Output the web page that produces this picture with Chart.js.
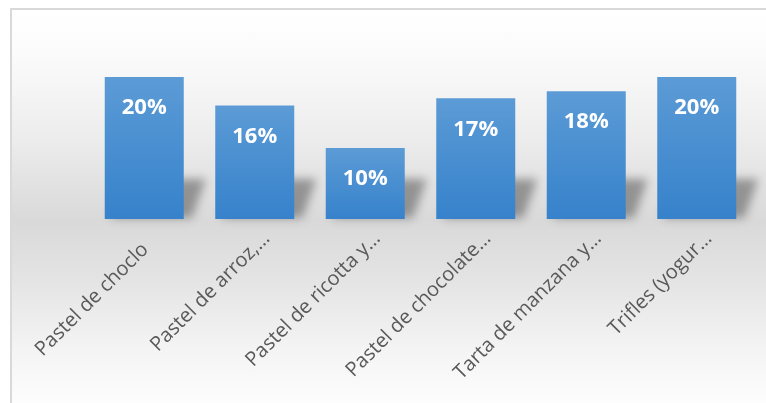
<!DOCTYPE html>
<html lang="es">
<head>
<meta charset="utf-8">
<title>Postres</title>
<script src="https://cdn.jsdelivr.net/npm/chart.js@4.4.1/dist/chart.umd.min.js"></script>
<style>
  html, body { margin: 0; padding: 0; width: 766px; height: 403px; overflow: hidden; background: #fff; }
  /* marco del gráfico con el degradado de fondo */
  #marco {
    position: absolute; left: 10px; top: 8px; width: 800px; height: 420px;
    border-left: 2px solid #d9d9d9; border-top: 2px solid #d9d9d9;
    background: linear-gradient(to bottom, #ffffff 0px, #fbfbfb 45px, #ececec 130px, #d9d9d9 211px, #e4e4e4 270px, #f4f4f4 340px, #fdfdfd 393px);
  }
  #grafico { position: absolute; left: 0; top: 0; }
</style>
</head>
<body>
<div id="marco"></div>
<canvas id="grafico" width="766" height="403"></canvas>
<script>
// Datos
const categorias = ['Pastel de choclo   ', 'Pastel de arroz,…', 'Pastel de ricotta y…', 'Pastel de chocolate…', 'Tarta de manzana y…', 'Trifles (yogur…'];
const porcentajes = [20, 16, 10, 17, 18, 20];
const ejeMin = 0;
const ejeMax = 25;

// Degradado vertical de cada barra
function degradado(context) {
    const chart = context.chart;
    const { chartArea, scales } = chart;
    if (!chartArea || !scales.y) return '#4a8fd1';
    const arriba = scales.y.getPixelForValue(porcentajes[context.dataIndex]);
    const abajo = scales.y.getPixelForValue(0);
    const g = chart.ctx.createLinearGradient(0, arriba, 0, abajo);
    g.addColorStop(0, '#5c9bd6');
    g.addColorStop(1, '#3682cb');
    return g;
}

// Sombra difuminada detrás de las barras
const sombraBarras = {
    id: 'sombraBarras',
    beforeDatasetsDraw(chart) {
        const ctx = chart.ctx;
        ctx.save();
        ctx.filter = 'blur(5px)';
        ctx.fillStyle = 'rgba(70, 70, 70, 0.5)';
        chart.getDatasetMeta(0).data.forEach(b => {
            const izq = b.x - b.width / 2;
            const der = b.x + b.width / 2;
            ctx.beginPath();
            ctx.moveTo(izq + 6, b.base - 1);
            ctx.lineTo(der + 8, b.base - 1);
            ctx.lineTo(der + 22, b.base - 40);
            ctx.lineTo(izq + 20, b.base - 40);
            ctx.closePath();
            ctx.fill();
        });
        ctx.restore();
    }
};

// Porcentaje dentro de cada barra
const etiquetasValor = {
    id: 'etiquetasValor',
    afterDatasetsDraw(chart) {
        const ctx = chart.ctx;
        ctx.save();
        ctx.font = 'bold 22px "Open Sans"';
        ctx.fillStyle = '#ffffff';
        ctx.textAlign = 'center';
        ctx.textBaseline = 'middle';
        chart.getDatasetMeta(0).data.forEach((b, i) => {
            ctx.fillText(porcentajes[i] + '%', b.x, b.y + 31);
        });
        ctx.restore();
    }
};

new Chart(document.getElementById('grafico'), {
    type: 'bar',
    data: {
        labels: categorias,
        datasets: [{
            data: porcentajes,
            backgroundColor: degradado,
            borderWidth: 0,
            barPercentage: 0.715,
            categoryPercentage: 1
        }]
    },
    options: {
        responsive: false,
        animation: false,
        layout: { padding: { left: 89, right: 14, top: 41.5, bottom: 0 } },
        plugins: {
            legend: { display: false },
            tooltip: { enabled: false }
        },
        scales: {
            x: {
                grid: { display: false, drawTicks: false },
                border: { display: false },
                ticks: {
                    autoSkip: false,
                    minRotation: 45,
                    maxRotation: 45,
                    padding: 8,
                    labelOffset: 12,
                    color: '#595959',
                    font: { family: "'Open Sans', sans-serif", size: 20 }
                },
                afterFit(scale) {
                    scale.height = 184;
                    scale.paddingLeft = 0;
                    scale.paddingRight = 0;
                }
            },
            y: { display: false, min: ejeMin, max: ejeMax }
        }
    },
    plugins: [sombraBarras, etiquetasValor]
});
</script>
</body>
</html>
